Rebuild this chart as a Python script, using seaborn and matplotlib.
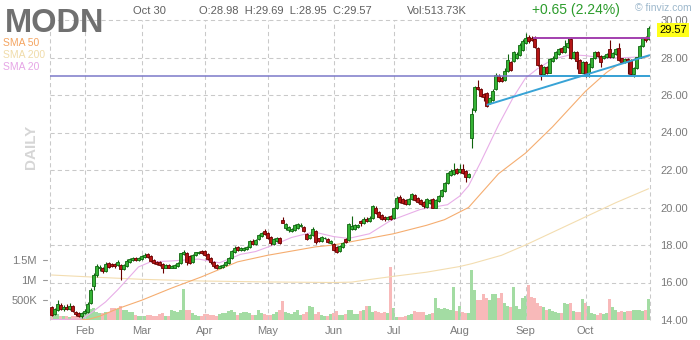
import matplotlib
matplotlib.use("Agg")
import matplotlib.pyplot as plt
from matplotlib.lines import Line2D
from matplotlib import font_manager
import numpy as np
import pandas as pd
import seaborn as sns

ticker = "MODN"
header_date = "Oct 30"
header_ohlc = "O:28.98  H:29.69  L:28.95  C:29.57"
header_vol = "Vol:513.73K"
header_change = "+0.65 (2.24%)"
last_price = "29.57"

month_labels = ["Feb", "Mar", "Apr", "May", "Jun", "Jul", "Aug", "Sep", "Oct"]
month_start = [11, 30, 51, 72, 94, 114, 136, 158, 178]

opens = [
    14.67, 14.30, 14.55, 14.80, 14.60, 14.70, 14.60, 14.75, 14.45, 14.35, 14.20,
    14.35, 14.45, 14.90, 15.80, 16.40, 16.75, 16.80, 16.60, 17.05, 17.00, 17.00, 16.95, 16.95, 16.70, 16.90, 17.10, 17.20, 17.30, 17.20,
    17.25, 17.35, 17.50, 17.40, 17.20, 17.10, 17.10, 17.00, 16.80, 16.95, 16.80, 16.80, 16.90, 17.05, 17.50, 17.60, 17.40, 17.10, 17.45, 17.55, 17.70,
    17.70, 17.50, 17.30, 17.10, 16.95, 16.80, 16.85, 16.95, 17.05, 17.30, 17.65, 17.90, 17.75, 17.75, 17.80, 17.90, 18.20, 18.05, 18.30, 18.50, 18.75,
    18.65, 18.45, 18.05, 18.20, 18.40, 19.35, 18.90, 18.80, 18.75, 18.80, 18.90, 19.00, 18.95, 18.60, 18.35, 18.55, 18.75, 18.35, 18.20, 18.35, 18.30, 18.10,
    18.05, 17.90, 17.70, 17.90, 18.30, 18.25, 18.85, 18.85, 18.95, 19.30, 19.15, 19.40, 19.30, 19.45, 20.00, 19.75, 19.60, 19.50, 19.40, 19.55,
    19.45, 19.95, 20.55, 20.45, 20.40, 20.20, 20.45, 20.65, 20.50, 20.40, 20.30, 20.05, 20.25, 20.45, 20.00, 20.35, 20.60, 20.90, 21.30, 21.75, 21.80, 22.05,
    21.90, 22.05, 21.95, 21.65, 23.70, 25.20, 26.45, 26.30, 26.05, 26.10, 25.55, 25.75, 26.30, 27.00, 26.90, 26.80, 27.30, 27.75, 27.80, 28.00, 28.15, 28.40,
    28.75, 29.10, 29.05, 29.00, 28.50, 27.60, 27.10, 27.50, 27.20, 27.80, 27.95, 28.20, 28.50, 28.30, 28.55, 29.00, 27.95, 28.30, 27.85, 27.20,
    27.75, 27.20, 27.50, 27.95, 28.30, 28.10, 27.95, 28.05, 28.45, 28.05, 28.20, 28.50, 27.95, 27.75, 27.90, 27.85, 27.10, 27.45, 28.00, 28.60, 29.05, 28.98,
]
highs = [
    14.75, 14.65, 15.05, 14.90, 14.80, 14.85, 14.90, 14.80, 14.50, 14.45, 14.45,
    14.60, 14.95, 15.70, 16.50, 17.00, 16.95, 16.85, 17.10, 17.10, 17.05, 17.05, 17.20, 17.00, 17.00, 17.25, 17.30, 17.35, 17.35, 17.35,
    17.45, 17.55, 17.55, 17.45, 17.25, 17.15, 17.15, 17.05, 17.00, 17.00, 16.95, 17.00, 17.10, 17.60, 17.75, 17.65, 17.45, 17.50, 17.65, 17.70, 17.75,
    17.75, 17.55, 17.35, 17.15, 17.00, 16.95, 17.00, 17.15, 17.35, 17.75, 17.95, 17.95, 17.90, 17.90, 17.95, 18.25, 18.30, 18.30, 18.60, 18.70, 18.85,
    18.70, 18.50, 18.35, 18.45, 18.45, 19.50, 19.15, 19.00, 18.90, 19.10, 19.20, 19.15, 19.00, 18.65, 18.60, 18.95, 18.80, 18.40, 18.50, 18.45, 18.35, 18.25,
    18.10, 17.95, 18.00, 18.15, 18.35, 19.15, 19.55, 19.10, 19.10, 19.35, 19.50, 19.50, 19.55, 20.15, 20.10, 19.80, 19.65, 19.55, 19.55, 19.60,
    20.00, 20.60, 20.65, 20.50, 20.45, 20.50, 20.80, 20.70, 20.55, 20.45, 20.35, 20.50, 20.45, 20.50, 20.45, 20.65, 21.00, 21.35, 21.90, 22.05, 22.35, 22.10,
    22.30, 22.30, 22.00, 21.85, 25.30, 26.50, 26.80, 26.35, 26.10, 26.15, 25.90, 26.30, 27.15, 27.10, 27.00, 27.45, 28.20, 27.80, 28.35, 28.30, 28.75, 29.00,
    29.30, 29.20, 29.15, 29.15, 28.55, 27.65, 27.55, 27.55, 27.95, 28.10, 28.35, 28.50, 28.55, 28.95, 29.05, 29.10, 28.35, 28.35, 27.90, 27.80,
    27.80, 27.70, 28.00, 28.35, 28.35, 28.15, 28.15, 28.25, 28.95, 28.30, 28.50, 28.75, 28.00, 27.95, 27.95, 27.90, 27.50, 28.05, 28.65, 29.10, 29.15, 29.69,
]
lows = [
    14.20, 14.25, 14.50, 14.55, 14.50, 14.55, 14.55, 14.45, 14.20, 14.15, 14.10,
    14.30, 14.40, 14.85, 15.60, 16.30, 16.60, 16.50, 16.55, 16.80, 16.85, 16.80, 16.90, 16.13, 16.65, 16.85, 17.05, 17.15, 17.15, 17.15,
    17.20, 17.30, 17.30, 17.10, 17.00, 16.95, 16.90, 16.50, 16.75, 16.75, 16.75, 16.75, 16.85, 17.00, 17.45, 16.95, 17.00, 17.05, 17.40, 17.50, 17.50,
    17.40, 17.20, 17.00, 16.80, 16.70, 16.75, 16.80, 16.90, 17.00, 17.25, 17.60, 17.70, 17.70, 17.70, 17.75, 17.85, 18.00, 18.00, 18.25, 18.45, 18.55,
    18.30, 18.00, 18.00, 18.15, 18.05, 19.15, 18.80, 18.70, 18.70, 18.75, 18.85, 18.95, 18.70, 18.25, 18.30, 18.50, 18.05, 18.15, 18.15, 18.30, 18.10, 18.05,
    17.70, 17.55, 17.65, 17.85, 18.10, 18.20, 18.80, 18.80, 18.90, 19.00, 19.10, 19.25, 19.25, 19.40, 19.65, 19.45, 19.35, 19.30, 19.35, 19.35,
    19.40, 19.90, 20.25, 20.20, 20.15, 20.15, 20.40, 20.35, 20.25, 20.15, 19.95, 20.00, 20.20, 19.95, 19.95, 20.30, 20.55, 20.85, 21.25, 21.70, 21.75, 21.80,
    21.85, 21.80, 21.35, 21.60, 23.20, 25.10, 26.25, 25.90, 25.70, 25.35, 25.50, 25.70, 26.25, 26.70, 26.70, 26.75, 27.25, 27.30, 27.75, 27.90, 28.10, 28.35,
    28.70, 28.80, 28.90, 28.50, 27.55, 26.80, 27.05, 27.10, 27.15, 27.75, 27.90, 28.15, 28.25, 28.25, 28.50, 27.90, 27.90, 27.40, 27.15, 27.15,
    26.95, 26.98, 27.45, 27.90, 28.05, 27.50, 27.90, 28.00, 28.00, 28.00, 28.15, 27.80, 27.70, 27.70, 27.10, 27.05, 26.95, 27.40, 27.95, 28.55, 28.85, 28.95,
]
closes = [
    14.27, 14.60, 14.85, 14.60, 14.70, 14.60, 14.75, 14.50, 14.30, 14.20, 14.35,
    14.50, 14.85, 15.60, 16.40, 16.90, 16.85, 16.60, 17.00, 16.85, 16.90, 16.90, 17.10, 16.70, 16.95, 17.15, 17.25, 17.30, 17.20, 17.30,
    17.40, 17.45, 17.35, 17.15, 17.05, 17.00, 16.95, 16.75, 16.95, 16.80, 16.90, 16.95, 17.05, 17.55, 17.65, 17.10, 17.05, 17.45, 17.60, 17.65, 17.55,
    17.45, 17.25, 17.10, 16.90, 16.80, 16.90, 16.95, 17.10, 17.30, 17.70, 17.85, 17.75, 17.85, 17.85, 17.90, 18.20, 18.05, 18.25, 18.55, 18.65, 18.60,
    18.35, 18.10, 18.30, 18.40, 18.10, 19.20, 19.10, 18.95, 18.85, 19.05, 19.10, 19.05, 18.75, 18.30, 18.55, 18.85, 18.15, 18.20, 18.45, 18.40, 18.15, 18.20,
    17.75, 17.65, 17.95, 18.10, 18.15, 19.10, 19.00, 19.05, 19.05, 19.15, 19.40, 19.30, 19.45, 20.10, 19.70, 19.50, 19.40, 19.40, 19.50, 19.40,
    19.95, 20.50, 20.30, 20.25, 20.20, 20.45, 20.70, 20.40, 20.30, 20.20, 20.10, 20.45, 20.40, 20.00, 20.40, 20.60, 20.95, 21.30, 21.85, 21.95, 22.00, 21.85,
    22.05, 21.85, 21.65, 21.80, 25.00, 26.45, 26.30, 25.95, 25.90, 25.40, 25.85, 26.20, 27.05, 26.75, 26.75, 27.30, 27.85, 27.35, 28.30, 28.20, 28.65, 28.90,
    29.05, 28.90, 28.95, 28.55, 27.60, 27.10, 27.50, 27.15, 27.90, 28.00, 28.30, 28.45, 28.30, 28.60, 28.75, 27.95, 28.30, 27.80, 27.20, 27.75,
    27.10, 27.65, 27.95, 28.30, 28.10, 27.75, 28.10, 28.20, 28.05, 28.25, 28.45, 27.85, 27.75, 27.90, 27.75, 27.10, 27.45, 28.00, 28.60, 29.05, 28.92, 29.57,
]
volumes_k = [
    160, 120, 140, 100, 90, 110, 80, 100, 110, 90, 110,
    140, 170, 280, 300, 200, 170, 180, 210, 200, 290, 300, 280, 350, 250, 240, 200, 200, 120, 110,
    110, 100, 130, 120, 100, 110, 150, 180, 110, 100, 250, 220, 200, 240, 770, 260, 240, 170, 120, 100, 110,
    160, 140, 130, 120, 110, 150, 170, 180, 230, 250, 200, 120, 170, 200, 200, 180, 130, 120, 250, 180, 150,
    120, 130, 140, 200, 250, 475, 200, 180, 160, 200, 250, 130, 150, 200, 350, 330, 160, 200, 120, 100, 110, 150,
    180, 230, 120, 130, 160, 260, 250, 150, 160, 230, 260, 340, 350, 200, 230, 200, 180, 210, 180, 1330,
    290, 80, 70, 70, 90, 130, 150, 230, 200, 190, 200, 130, 150, 180, 540, 300, 280, 290, 270, 260, 830, 220,
    350, 200, 180, 170, 1250, 750, 500, 500, 650, 560, 500, 650, 650, 560, 670, 420, 350, 330, 830, 350, 270, 560,
    600, 880, 580, 560, 420, 350, 330, 250, 280, 230, 200, 170, 180, 420, 400, 430, 220, 200, 190, 520,
    420, 350, 180, 150, 120, 180, 150, 170, 520, 330, 250, 200, 220, 200, 220, 230, 250, 260, 250, 230, 250, 513.73,
]

# moving averages (trading-day index, price)
sma20_idx = [0, 10, 13, 18, 22, 29, 33, 40, 49, 56, 63, 68, 74, 80, 86, 89, 94, 99, 106, 113, 123, 132, 136, 139, 143, 149, 154, 158, 162, 167, 173, 178, 185, 199]
sma20_val = [14.02, 14.05, 14.35, 14.96, 15.6, 16.83, 17.1, 17.15, 17.25, 17.05, 17.5, 17.65, 18.0, 18.4, 18.64, 18.64, 18.45, 18.35, 18.6, 19.3, 19.9, 20.15, 20.6, 21.15, 22.4, 24.4, 25.9, 26.9, 27.4, 27.9, 28.15, 28.1, 27.95, 28.05]
sma50_idx = [0, 12, 16, 22, 30, 40, 50, 62, 72, 88, 94, 104, 114, 125, 131, 139, 149, 158, 167, 178, 185, 190, 199]
sma50_val = [14.02, 14.02, 14.2, 14.6, 15.05, 15.7, 16.3, 17.1, 17.45, 17.9, 18.0, 18.3, 18.6, 19.05, 19.35, 20.0, 21.8, 22.9, 24.3, 26.2, 27.2, 27.75, 28.05]
sma200_idx = [0, 15, 30, 50, 72, 94, 100, 107, 114, 125, 136, 140, 150, 158, 168, 178, 188, 199]
sma200_val = [16.4, 16.28, 16.17, 16.08, 16.03, 16.0, 16.02, 16.18, 16.33, 16.55, 16.85, 17.0, 17.45, 18.0, 18.75, 19.5, 20.25, 21.0]

# drawn trend lines (index, price)
support_full = 27.0
resist_x = [160.5, 199.5]
resist_y = [29.04, 29.04]
support_x = [162.8, 199.5]
support_y = [27.0, 27.0]
rising_x = [145.1, 199.5]
rising_y = [25.47, 28.13]

price_ticks = [14, 16, 18, 20, 22, 24, 26, 28, 30]
vol_ticks = [500000, 1000000, 1500000]
vol_tick_labels = ["500K", "1M", "1.5M"]

# ---------------------------------------------------------------------
sns.set_theme(style="white")
plt.rcParams['font.family'] = ['Liberation Sans', 'DejaVu Sans']

W, H = 700, 340
fig = plt.figure(figsize=(7, 3.4), dpi=100)
fig.patch.set_facecolor("white")
axv = fig.add_axes([50 / W, 20 / H, 600 / W, 300 / H])
ax = axv.twinx()
ax.patch.set_visible(False)

n = len(closes)
idx = np.arange(n)
df = pd.DataFrame({"i": idx, "o": opens, "h": highs, "l": lows, "c": closes,
                   "v": np.array(volumes_k) * 1000.0})
up = df["c"] >= df["o"]

# volume bars
vcol = np.where(up, "#a3dca3", "#f8b9b9")
axv.bar(df["i"], df["v"], width=0.85, color=vcol, linewidth=0, zorder=1)
axv.set_ylim(0, 7.5e6)
axv.set_xlim(-0.5, n - 0.5)

# grid
gcol = "#c9c9c9"
for y in price_ticks[1:]:
    ax.axhline(y, color=gcol, lw=0.75, ls=(0, (4, 3)), zorder=0.5, clip_on=False)
for m in month_start:
    ax.axvline(m, color=gcol, lw=0.75, ls=(0, (4, 3)), zorder=0.5)
for xe in (-0.5, n - 0.5):
    ax.axvline(xe, color=gcol, lw=0.75, ls=(0, (4, 3)), zorder=0.5, clip_on=False)

# moving averages
sns.lineplot(x=sma200_idx, y=sma200_val, ax=ax, color="#f3ddb0", lw=0.8, estimator=None, sort=False, zorder=2)
sns.lineplot(x=sma50_idx, y=sma50_val, ax=ax, color="#f5ad70", lw=0.8, estimator=None, sort=False, zorder=2)
sns.lineplot(x=sma20_idx, y=sma20_val, ax=ax, color="#e8aee8", lw=0.8, estimator=None, sort=False, zorder=2)

# candles
edge = np.where(up, "#0f650f", "#6a0000")
body = np.where(up, "#35b335", "#b51515")
ax.vlines(df["i"], df["l"], df["h"], colors=edge, lw=0.8, zorder=3)
bot = np.minimum(df["o"], df["c"])
hgt = np.maximum(np.abs(df["c"] - df["o"]), 0.04)
ax.bar(df["i"], hgt, bottom=bot, width=0.8, color=body, edgecolor=edge, linewidth=0.6, zorder=3.5)

# trend lines
ax.axhline(support_full, color="#7c79c9", lw=1.1, zorder=4)
ax.plot(resist_x, resist_y, color="#a23fae", lw=1.4, zorder=4.2, solid_capstyle="butt")
ax.plot(support_x, support_y, color="#38a3d6", lw=1.4, zorder=4.2, solid_capstyle="butt")
ax.plot(rising_x, rising_y, color="#38a3d6", lw=1.4, zorder=4.2, solid_capstyle="butt")

ax.set_ylim(14, 30)
ax.set_xlim(-0.5, n - 0.5)
ax.set_xlabel("")
ax.set_ylabel("")
axv.set_ylabel("")
for a in (ax, axv):
    for s in a.spines.values():
        s.set_visible(False)
    a.grid(False)
axv.set_xticks([])
ax.set_xticks([])

ax.set_yticks(price_ticks)
ax.set_yticklabels([f"{v:.2f}" for v in price_ticks])
ax.tick_params(axis="y", length=0, pad=7.5, labelsize=8, labelcolor="#7b7b7b",
               right=True, labelright=True, left=False, labelleft=False)
axv.set_yticks(vol_ticks)
axv.set_yticklabels(vol_tick_labels)
axv.tick_params(axis="y", length=0, pad=9.4, labelsize=8, labelcolor="#7b7b7b",
                left=True, labelleft=True, right=False, labelright=False)
for vt in vol_ticks:
    yy = (20 + vt / 7.5e6 * 300) / H
    fig.add_artist(Line2D([43 / W, 46.5 / W], [yy, yy], transform=fig.transFigure,
                          color="#9a9a9a", lw=0.8))

def ftext(x, y, s, **kw):
    return fig.text(x / W, 1 - y / H, s, **kw)

# month labels
for lab, m in zip(month_labels, month_start):
    ftext(50 + (m + 0.5) * 3, 334.5, lab, ha="center", va="baseline", fontsize=8, color="#7b7b7b")

# title and header
names = {f.name for f in font_manager.fontManager.ttflist}
if "Liberation Sans Narrow" in names:
    ftext(5, 32, ticker, fontsize=26.5, fontweight="bold", color="#707070", va="baseline",
          family=["Liberation Sans Narrow", "DejaVu Sans"])
else:
    ftext(5, 32, ticker, fontsize=23.5, fontweight="bold", color="#707070", va="baseline")

ftext(3, 46.5, "SMA 50", fontsize=7.5, color="#f4a460", va="baseline")
ftext(3, 58, "SMA 200", fontsize=7.5, color="#f0dcaa", va="baseline")
ftext(3, 70, "SMA 20", fontsize=7.5, color="#e6a6e6", va="baseline")
ftext(31, 147, "DAILY", fontsize=11, fontweight="bold", color="#d6d6d6", rotation=90,
      ha="center", va="center")

hc = "#5f5f5f"
ftext(133, 14, header_date, fontsize=8, color=hc, va="baseline")
ftext(199, 14, header_ohlc, fontsize=8, color=hc, va="baseline")
ftext(407, 14, header_vol, fontsize=8, color=hc, va="baseline")
ftext(532, 14, header_change, fontsize=10, color="#2c9c2c", va="baseline")
ftext(635, 11, "\u00a9 finviz.com", fontsize=7.5, color="#9db8cc", va="baseline")

# last price tag
ftext(673, 30, last_price, fontsize=8, color="black", ha="center", va="center",
      bbox=dict(boxstyle="square,pad=0.2", fc="#ffff1a", ec="none"), zorder=10)

fig.savefig("out.png", dpi=100, facecolor="white")
